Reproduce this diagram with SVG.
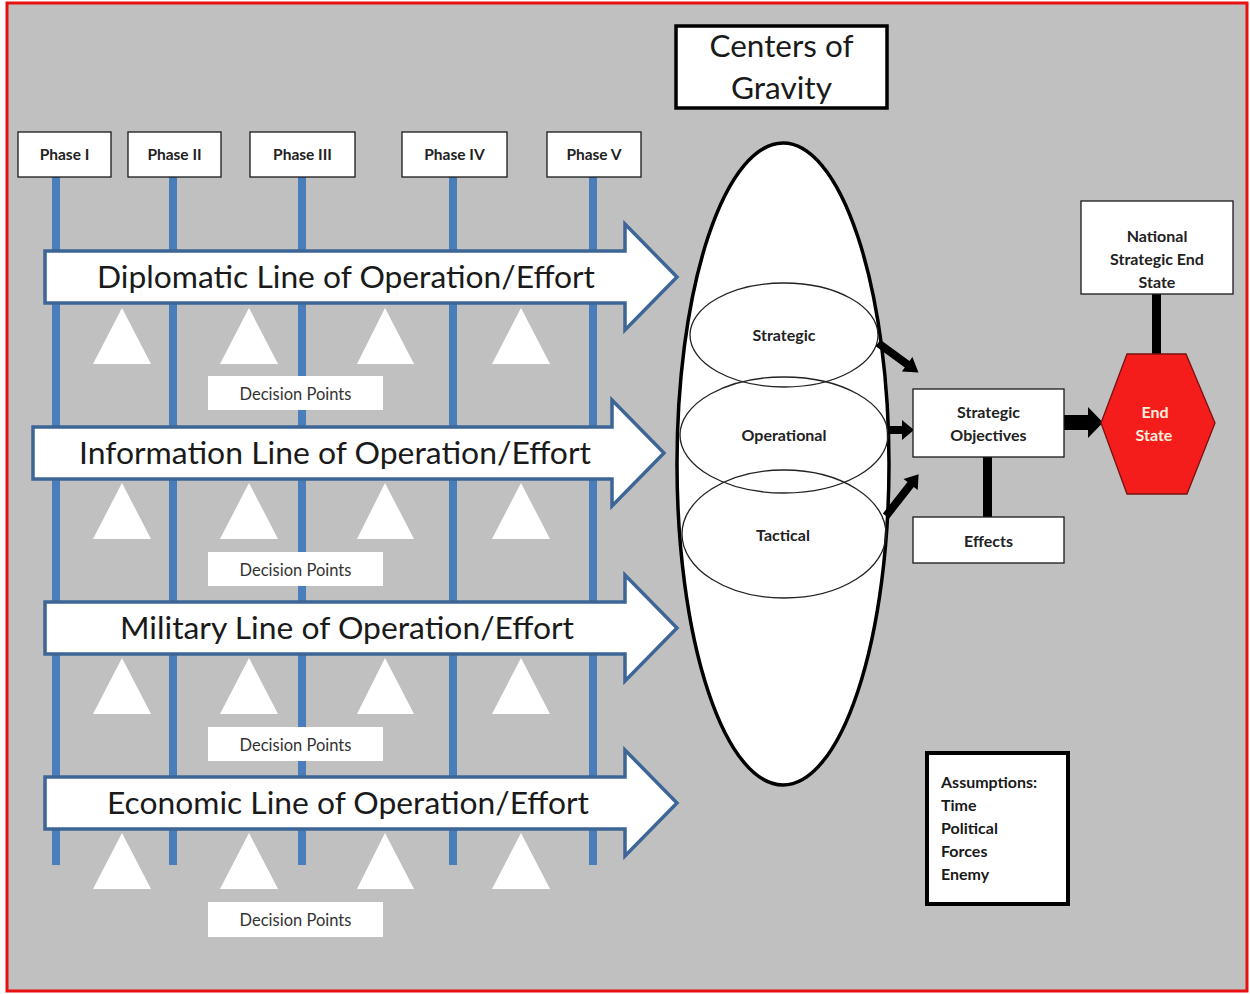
<svg xmlns="http://www.w3.org/2000/svg" width="1250" height="994" viewBox="0 0 1250 994">
  <defs>
    <style>
      text { font-family: Lato, "Open Sans", "Liberation Sans", sans-serif; fill: #1a1a1a; }
      .box { fill: #ffffff; stroke: #1a1a1a; stroke-width: 1.3; }
      .phase { font-size: 15.5px; font-weight: bold; text-anchor: middle; fill: #222; }
      .phaseline { stroke: #4a7ebb; stroke-width: 8; }
      .loe { fill: #ffffff; stroke: #3d6696; stroke-width: 3.5; stroke-linejoin: miter; }
      .loetext { font-size: 30px; text-anchor: middle; }
      .dp { fill: #ffffff; }
      .dptext { font-size: 16.5px; text-anchor: middle; fill: #333; }
      .tri { fill: #ffffff; }
      .cog { fill: none; stroke: #222; stroke-width: 1.3; }
      .lvl { font-size: 16px; font-weight: bold; text-anchor: middle; fill: #222; }
      .lbl { font-size: 16px; font-weight: bold; text-anchor: middle; fill: #222; }
      .bar { fill: #000000; }
    </style>
  </defs>

  <!-- page and frame -->
  <rect x="0" y="0" width="1250" height="994" fill="#ffffff"/>
  <rect x="7" y="3" width="1240" height="988" fill="#c0c0c0" stroke="#e81010" stroke-width="3"/>

  <!-- phase timeline lines -->
  <g id="phase-lines">
    <line class="phaseline" x1="56" y1="177" x2="56" y2="865"/>
    <line class="phaseline" x1="173" y1="177" x2="173" y2="865"/>
    <line class="phaseline" x1="302" y1="177" x2="302" y2="865"/>
    <line class="phaseline" x1="453" y1="177" x2="453" y2="865"/>
    <line class="phaseline" x1="593" y1="177" x2="593" y2="865"/>
  </g>

  <!-- phase headers -->
  <g id="phase-1"><rect class="box" x="18" y="132" width="93" height="45"/><text class="phase" x="64.5" y="160">Phase I</text></g>
  <g id="phase-2"><rect class="box" x="128" y="132" width="93" height="45"/><text class="phase" x="174.5" y="160">Phase II</text></g>
  <g id="phase-3"><rect class="box" x="250" y="132" width="105" height="45"/><text class="phase" x="302.5" y="160">Phase III</text></g>
  <g id="phase-4"><rect class="box" x="402" y="132" width="105" height="45"/><text class="phase" x="454.5" y="160">Phase IV</text></g>
  <g id="phase-5"><rect class="box" x="547" y="132" width="94" height="45"/><text class="phase" x="594" y="160">Phase V</text></g>

  <!-- lines of operation / effort -->
  <g id="loe-diplomatic">
    <path class="loe" d="M45,251 L625,251 L625,224 L677,277 L625,330 L625,303 L45,303 Z"/>
    <text class="loetext" x="346" y="288" textLength="498" lengthAdjust="spacingAndGlyphs">Diplomatic Line of Operation/Effort</text>
  </g>
  <g id="loe-information">
    <path class="loe" d="M33,427 L612,427 L612,400 L664,453 L612,506 L612,479 L33,479 Z"/>
    <text class="loetext" x="335" y="464" textLength="512" lengthAdjust="spacingAndGlyphs">Information Line of Operation/Effort</text>
  </g>
  <g id="loe-military">
    <path class="loe" d="M45,602 L625,602 L625,575 L677,628 L625,681 L625,654 L45,654 Z"/>
    <text class="loetext" x="347" y="639" textLength="454" lengthAdjust="spacingAndGlyphs">Military Line of Operation/Effort</text>
  </g>
  <g id="loe-economic">
    <path class="loe" d="M45,777 L625,777 L625,750 L677,803 L625,856 L625,829 L45,829 Z"/>
    <text class="loetext" x="348" y="814" textLength="482" lengthAdjust="spacingAndGlyphs">Economic Line of Operation/Effort</text>
  </g>

  <!-- decision point markers -->
  <g id="decision-triangles">
    <polygon class="tri" points="93,364 122,308 151,364"/>
    <polygon class="tri" points="220,364 249,308 278,364"/>
    <polygon class="tri" points="357,364 385,308 414,364"/>
    <polygon class="tri" points="492,364 521,308 550,364"/>

    <polygon class="tri" points="93,539 122,483 151,539"/>
    <polygon class="tri" points="220,539 249,483 278,539"/>
    <polygon class="tri" points="357,539 385,483 414,539"/>
    <polygon class="tri" points="492,539 521,483 550,539"/>

    <polygon class="tri" points="93,714 122,658 151,714"/>
    <polygon class="tri" points="220,714 249,658 278,714"/>
    <polygon class="tri" points="357,714 385,658 414,714"/>
    <polygon class="tri" points="492,714 521,658 550,714"/>

    <polygon class="tri" points="93,889 122,833 151,889"/>
    <polygon class="tri" points="220,889 249,833 278,889"/>
    <polygon class="tri" points="357,889 385,833 414,889"/>
    <polygon class="tri" points="492,889 521,833 550,889"/>
  </g>

  <g id="decision-points-1"><rect class="dp" x="208" y="376" width="175" height="34"/><text class="dptext" x="295.5" y="399.5">Decision Points</text></g>
  <g id="decision-points-2"><rect class="dp" x="208" y="552" width="175" height="34"/><text class="dptext" x="295.5" y="575.5">Decision Points</text></g>
  <g id="decision-points-3"><rect class="dp" x="208" y="727" width="175" height="34"/><text class="dptext" x="295.5" y="750.5">Decision Points</text></g>
  <g id="decision-points-4"><rect class="dp" x="208" y="902" width="175" height="35"/><text class="dptext" x="295.5" y="925.5">Decision Points</text></g>

  <!-- centers of gravity -->
  <g id="cog-title">
    <rect x="676" y="26" width="211" height="82" fill="#ffffff" stroke="#000" stroke-width="3.5"/>
    <text x="781.5" y="57" font-size="30" text-anchor="middle" textLength="144" lengthAdjust="spacingAndGlyphs">Centers of</text>
    <text x="781.5" y="99" font-size="30" text-anchor="middle" textLength="101" lengthAdjust="spacingAndGlyphs">Gravity</text>
  </g>

  <g id="cog-ellipse">
    <ellipse cx="783" cy="464" rx="106" ry="321" fill="#ffffff" stroke="#000" stroke-width="3.5"/>
  </g>
  <g id="cog-strategic">
    <ellipse class="cog" cx="784" cy="335" rx="94" ry="52"/>
    <text class="lvl" x="784" y="341">Strategic</text>
  </g>
  <g id="cog-operational">
    <ellipse class="cog" cx="784" cy="435" rx="104" ry="58"/>
    <text class="lvl" x="784" y="441">Operational</text>
  </g>
  <g id="cog-tactical">
    <ellipse class="cog" cx="784" cy="534" rx="102" ry="64"/>
    <text class="lvl" x="783" y="541">Tactical</text>
  </g>

  <!-- connectors -->
  <g id="connectors">
    <!-- strategic -> objectives -->
    <g transform="translate(878,343) rotate(36)">
      <path class="bar" d="M0,-4 L36,-4 L36,-9 L50,0 L36,9 L36,4 L0,4 Z"/>
    </g>
    <!-- operational -> objectives -->
    <path class="bar" d="M888,426 L902,426 L902,420 L914,430 L902,440 L902,434 L888,434 Z"/>
    <!-- tactical -> objectives -->
    <g transform="translate(886,516) rotate(-52)">
      <path class="bar" d="M0,-4 L40,-4 L40,-9 L53,0 L40,9 L40,4 L0,4 Z"/>
    </g>
    <!-- objectives -> end state -->
    <path class="bar" d="M1064,415 L1088,415 L1088,407 L1103,422.5 L1088,438 L1088,430 L1064,430 Z"/>
    <!-- objectives to effects -->
    <rect class="bar" x="983" y="457" width="9" height="60"/>
    <!-- national end state to end state -->
    <rect class="bar" x="1152" y="294" width="9" height="60"/>
  </g>

  <g id="strategic-objectives">
    <rect class="box" x="913" y="389" width="151" height="68"/>
    <text class="lbl" x="988.5" y="418">Strategic</text>
    <text class="lbl" x="988.5" y="441">Objectives</text>
  </g>
  <g id="effects">
    <rect class="box" x="913" y="517" width="151" height="46"/>
    <text class="lbl" x="988.5" y="547">Effects</text>
  </g>

  <g id="national-end-state">
    <rect class="box" x="1081" y="201" width="152" height="93"/>
    <text class="lbl" x="1157" y="242">National</text>
    <text class="lbl" x="1157" y="265">Strategic End</text>
    <text class="lbl" x="1157" y="288">State</text>
  </g>

  <g id="end-state">
    <polygon points="1127,354 1186,354 1215,423 1187,494 1127,494 1101,423" fill="#f51c1c" stroke="#7a1010" stroke-width="1.3"/>
    <text class="lbl" x="1155" y="418" style="fill:#fff0dc">End</text>
    <text class="lbl" x="1154" y="441" style="fill:#fff0dc">State</text>
  </g>

  <g id="assumptions">
    <rect x="927" y="753" width="141" height="151" fill="#ffffff" stroke="#000" stroke-width="4"/>
    <text x="941" y="788" font-size="16" font-weight="bold" fill="#222">Assumptions:</text>
    <text x="941" y="811" font-size="16" font-weight="bold" fill="#222">Time</text>
    <text x="941" y="834" font-size="16" font-weight="bold" fill="#222">Political</text>
    <text x="941" y="857" font-size="16" font-weight="bold" fill="#222">Forces</text>
    <text x="941" y="880" font-size="16" font-weight="bold" fill="#222">Enemy</text>
  </g>
</svg>
